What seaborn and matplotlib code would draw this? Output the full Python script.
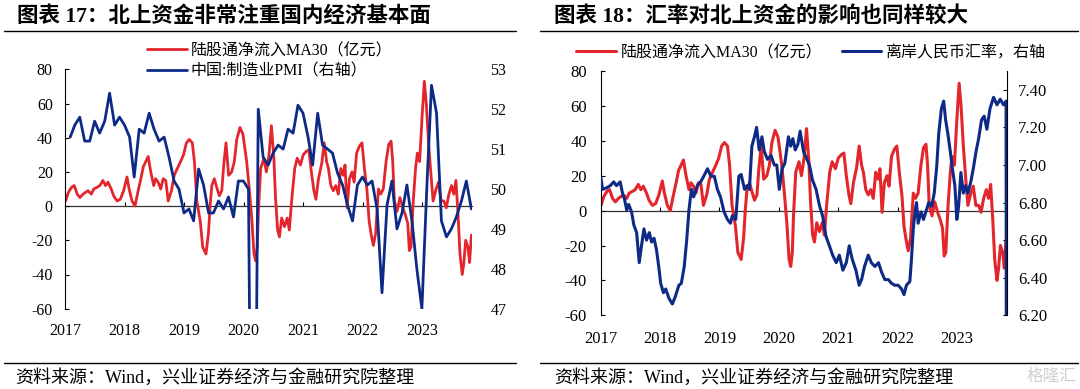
import pandas as pd
import matplotlib
matplotlib.use("Agg")
import matplotlib.pyplot as plt
import matplotlib.dates as mdates
from matplotlib.lines import Line2D
import seaborn as sns

# ---- data ----
# 陆股通净流入MA30（亿元）
flow_dates = [
    "2017-01-03", "2017-01-20", "2017-02-08", "2017-02-25", "2017-03-15", "2017-04-01", "2017-04-20",
    "2017-05-05", "2017-05-20", "2017-06-10", "2017-06-25", "2017-07-15", "2017-08-01", "2017-08-20",
    "2017-09-05", "2017-09-20", "2017-10-10", "2017-10-25", "2017-11-15", "2017-12-05", "2017-12-25",
    "2018-01-15", "2018-01-28", "2018-02-15", "2018-03-05", "2018-03-20", "2018-04-10", "2018-04-25",
    "2018-05-10", "2018-05-25", "2018-06-10", "2018-06-28", "2018-07-10", "2018-07-25", "2018-08-10",
    "2018-08-25", "2018-09-10", "2018-09-25", "2018-10-15", "2018-11-01", "2018-11-20", "2018-12-10",
    "2018-12-28", "2019-01-15", "2019-02-01", "2019-02-20", "2019-03-05", "2019-03-20", "2019-04-10",
    "2019-04-25", "2019-05-15", "2019-05-30", "2019-06-10", "2019-06-20", "2019-07-05", "2019-07-20",
    "2019-08-05", "2019-08-20", "2019-09-01", "2019-09-15", "2019-10-01", "2019-10-20", "2019-11-05",
    "2019-11-20", "2019-12-10", "2019-12-28", "2020-01-20", "2020-02-05", "2020-02-20", "2020-03-05",
    "2020-03-15", "2020-03-25", "2020-04-01", "2020-04-15", "2020-05-05", "2020-05-20", "2020-06-05",
    "2020-06-20", "2020-07-05", "2020-07-15", "2020-07-28", "2020-08-08", "2020-08-22", "2020-09-08",
    "2020-09-25", "2020-10-08", "2020-10-22", "2020-11-10", "2020-11-25", "2020-12-15", "2021-01-01",
    "2021-01-20", "2021-02-05", "2021-02-20", "2021-03-08", "2021-03-20", "2021-04-05", "2021-04-25",
    "2021-05-10", "2021-05-25", "2021-06-05", "2021-06-20", "2021-07-05", "2021-07-20", "2021-08-05",
    "2021-08-20", "2021-09-05", "2021-09-15", "2021-09-28", "2021-10-12", "2021-10-28", "2021-11-10",
    "2021-11-25", "2021-12-12", "2021-12-28", "2022-01-12", "2022-01-28", "2022-02-10", "2022-02-25",
    "2022-03-08", "2022-03-22", "2022-04-08", "2022-04-22", "2022-05-08", "2022-05-25", "2022-06-10",
    "2022-06-25", "2022-07-05", "2022-07-15", "2022-08-01", "2022-08-18", "2022-09-05", "2022-09-20",
    "2022-10-05", "2022-10-15", "2022-10-25", "2022-11-08", "2022-11-22", "2022-12-03", "2022-12-17",
    "2023-01-01", "2023-01-15", "2023-01-27", "2023-02-10", "2023-02-25", "2023-03-10", "2023-03-28",
    "2023-04-12", "2023-04-28", "2023-05-15", "2023-05-30", "2023-06-15", "2023-07-01", "2023-07-15",
    "2023-07-28", "2023-08-10", "2023-08-22", "2023-09-05", "2023-09-15", "2023-09-26", "2023-10-10",
    "2023-10-20", "2023-10-31",
]
flow_vals = [
    3, 8, 11, 12, 7, 5, 7,
    8, 9, 7, 10, 11, 12, 15,
    12, 14, 10, 6, 3, 4, 9,
    17, 10, 3, 0, 7, 16, 23,
    26, 29, 20, 12, 16, 14, 10,
    16, 15, 3, 9, 18, 22, 26,
    30, 37, 39, 37, 26, 3, -9,
    -24, -28, -16, 1, 12, 16, 11,
    6, 9, 24, 37, 18, 20, 26,
    39, 46, 42, 26, 10, -7, -28,
    -32, -24, -3, 22, 28, 20, 30,
    47, 28, 5, -14, -18, -7, -12,
    -7, -14, 3, 22, 28, 24, 30,
    32, 33, 20, 9, 4, 16, 25,
    37, 26, 22, 12, 9, 12, 7,
    22, 18, 24, -1, 16, 20, 14,
    31, 35, 37, 22, 9, -9, -18,
    -23, -16, 10, 7, 10, 26, 36,
    38, 26, 3, -3, 5, -1, -5,
    -10, -26, -24, 3, 22, 31, 26,
    52, 73, 60, 37, 18, 3, 10,
    14, 3, 3, -1, 7, 12, 7,
    15, -5, -28, -40, -33, -20, -24,
    -33, -17,
]

# 中国:制造业PMI（月度，2017-01 至 2023-10）
pmi_vals = [
    51.3, 51.6, 51.8, 51.2, 51.2, 51.7, 51.4, 51.7, 52.4, 51.6, 51.8, 51.6,
    51.3, 50.3, 51.5, 51.4, 51.9, 51.5, 51.2, 51.3, 50.8, 50.2, 50.0, 49.4,
    49.5, 49.2, 50.5, 50.1, 49.4, 49.4, 49.7, 49.5, 49.8, 49.3, 50.2, 50.2,
    50.0, 35.7, 52.0, 50.8, 50.6, 50.9, 51.1, 51.0, 51.5, 51.4, 52.1, 51.9,
    51.3, 50.6, 51.9, 51.1, 51.0, 50.9, 50.4, 50.1, 49.6, 49.2, 50.1, 50.3,
    50.1, 50.2, 49.5, 47.4, 49.6, 50.2, 49.0, 49.4, 50.1, 49.2, 48.0, 47.0,
    50.1, 52.6, 51.9, 49.2, 48.8, 49.0, 49.3, 49.7, 50.2, 49.5,
]
pmi_dates = pd.date_range("2017-01-31", periods=len(pmi_vals), freq="ME")

# 离岸人民币汇率
cnh_dates = [
    "2017-01-03", "2017-01-12", "2017-02-10", "2017-03-01", "2017-03-22", "2017-04-08", "2017-05-01",
    "2017-05-15", "2017-05-27", "2017-06-10", "2017-06-22", "2017-07-10", "2017-07-24", "2017-08-10",
    "2017-08-26", "2017-09-09", "2017-09-24", "2017-10-10", "2017-10-27", "2017-11-10", "2017-11-25",
    "2017-12-10", "2017-12-24", "2018-01-05", "2018-01-22", "2018-02-05", "2018-02-25", "2018-03-18",
    "2018-04-05", "2018-04-27", "2018-05-12", "2018-05-30", "2018-06-14", "2018-06-28", "2018-07-13",
    "2018-07-27", "2018-08-18", "2018-09-08", "2018-09-27", "2018-10-20", "2018-11-10", "2018-12-01",
    "2018-12-20", "2019-01-08", "2019-01-30", "2019-02-20", "2019-03-10", "2019-03-22", "2019-04-12",
    "2019-05-01", "2019-05-15", "2019-06-05", "2019-06-20", "2019-07-05", "2019-07-20", "2019-08-05",
    "2019-08-18", "2019-09-03", "2019-09-20", "2019-10-05", "2019-10-24", "2019-11-15", "2019-12-05",
    "2019-12-20", "2020-01-05", "2020-01-22", "2020-02-08", "2020-03-01", "2020-03-15", "2020-03-28",
    "2020-04-12", "2020-04-28", "2020-05-12", "2020-06-02", "2020-06-18", "2020-07-08", "2020-07-27",
    "2020-08-18", "2020-09-09", "2020-09-27", "2020-10-18", "2020-11-08", "2020-11-28", "2020-12-20",
    "2021-01-08", "2021-01-30", "2021-02-20", "2021-03-10", "2021-03-28", "2021-04-20", "2021-05-10",
    "2021-05-25", "2021-06-12", "2021-07-05", "2021-07-24", "2021-08-15", "2021-09-06", "2021-09-25",
    "2021-10-15", "2021-11-06", "2021-11-25", "2021-12-15", "2022-01-05", "2022-01-26", "2022-02-10",
    "2022-02-25", "2022-03-18", "2022-03-28", "2022-04-08", "2022-04-20", "2022-04-28", "2022-05-08",
    "2022-05-26", "2022-06-10", "2022-06-28", "2022-07-12", "2022-07-30", "2022-08-15", "2022-08-30",
    "2022-09-12", "2022-09-28", "2022-10-12", "2022-10-24", "2022-11-06", "2022-11-22", "2022-12-03",
    "2022-12-20", "2023-01-01", "2023-01-12", "2023-01-26", "2023-02-10", "2023-02-24", "2023-03-10",
    "2023-03-28", "2023-04-12", "2023-05-01", "2023-05-15", "2023-06-02", "2023-06-18", "2023-07-05",
    "2023-07-24", "2023-08-15", "2023-09-05", "2023-09-25", "2023-10-15", "2023-10-31", "2023-11-01",
]
cnh_vals = [
    6.93, 6.87, 6.88, 6.89, 6.91, 6.89, 6.91,
    6.85, 6.82, 6.76, 6.79, 6.75, 6.68, 6.64,
    6.48, 6.57, 6.66, 6.60, 6.64, 6.59, 6.61,
    6.55, 6.46, 6.37, 6.32, 6.34, 6.29, 6.26,
    6.30, 6.36, 6.37, 6.46, 6.60, 6.76, 6.87,
    6.83, 6.89, 6.91, 6.94, 6.98, 6.94, 6.94,
    6.87, 6.83, 6.75, 6.71, 6.69, 6.73, 6.71,
    6.94, 6.95, 6.87, 6.89, 6.87, 7.10, 7.15,
    7.20, 7.08, 7.15, 7.07, 7.03, 7.05, 7.00,
    7.00, 6.87, 6.98, 7.01, 7.15, 7.10, 7.14,
    7.08, 7.11, 7.18, 7.07, 7.04, 7.00, 6.92,
    6.87, 6.78, 6.73, 6.62, 6.57, 6.52, 6.48,
    6.52, 6.44, 6.48, 6.57, 6.50, 6.44, 6.36,
    6.39, 6.46, 6.52, 6.48, 6.46, 6.48, 6.43,
    6.39, 6.39, 6.37, 6.36, 6.36, 6.34, 6.31,
    6.36, 6.38, 6.50, 6.66, 6.76, 6.80, 6.69,
    6.75, 6.71, 6.76, 6.80, 6.78, 6.85, 6.99,
    7.17, 7.30, 7.34, 7.24, 7.17, 7.07, 6.99,
    6.89, 6.71, 6.78, 6.96, 6.85, 6.89, 6.85,
    6.91, 6.98, 7.08, 7.14, 7.24, 7.26, 7.19,
    7.30, 7.36, 7.32, 7.35, 7.32, 7.34, 6.20,
]

flow = pd.DataFrame({"date": pd.to_datetime(flow_dates), "value": flow_vals})
pmi = pd.DataFrame({"date": pmi_dates, "value": pmi_vals})
cnh = pd.DataFrame({"date": pd.to_datetime(cnh_dates), "value": cnh_vals})

RED = "#E3262B"
BLUE = "#0E2A87"
W, H = 1080, 389

sns.set_theme(style="white")
plt.rcParams["font.family"] = ["Liberation Serif", "Noto Sans CJK SC"]
plt.rcParams["axes.unicode_minus"] = False
plt.rcParams["text.color"] = "black"
plt.rcParams["xtick.color"] = "black"
plt.rcParams["ytick.color"] = "black"

fig = plt.figure(figsize=(W / 100, H / 100), dpi=100)


def box(x0, y0, x1, y1):
    # pixel box (top-left origin) -> figure fraction rect
    return [x0 / W, 1 - y1 / H, (x1 - x0) / W, (y1 - y0) / H]


def style_x(ax, fs, pad):
    ax.set_xlim(pd.Timestamp("2017-01-01"), pd.Timestamp("2023-11-05"))
    ax.xaxis.set_major_locator(mdates.YearLocator())
    ax.xaxis.set_major_formatter(mdates.DateFormatter("%Y"))
    ax.tick_params(axis="x", bottom=True, length=0, pad=pad, labelsize=fs)
    ax.set_xlabel("")
    for s in ["bottom", "top", "right"]:
        ax.spines[s].set_visible(False)
    ax.spines["left"].set_color("black")
    ax.spines["left"].set_linewidth(0.8)
    # zero line carrying the year ticks
    zero = ax.secondary_xaxis(0, transform=ax.transData)
    yrs = [mdates.date2num(pd.Timestamp(f"{y}-01-01")) for y in range(2018, 2024)]
    zero.set_xticks(yrs)
    zero.tick_params(axis="x", direction="in", length=3, width=0.8, color="black",
                     labelbottom=False)
    zero.spines["bottom"].set_color("#333333")
    zero.spines["bottom"].set_linewidth(0.9)


def style_left_y(ax, fs, pad):
    ax.set_ylim(-60, 80)
    ax.set_yticks(range(-60, 81, 20))
    ax.set_ylabel("")
    ax.tick_params(axis="y", left=True, direction="in", length=3, width=0.8,
                   color="black", pad=pad, labelsize=fs)


# ---------------- left chart ----------------
ax1 = fig.add_axes(box(65.3, 69.3, 472.2, 308.7))
sns.lineplot(data=flow, x="date", y="value", ax=ax1, color=RED, lw=2.0)
ax1b = ax1.twinx()
sns.lineplot(data=pmi, x="date", y="value", ax=ax1b, color=BLUE, lw=2.0)
style_x(ax1, 11.5, 10)
style_left_y(ax1, 11.5, 9)
ax1b.set_ylim(47, 53)
ax1b.set_yticks(range(47, 54))
ax1b.set_ylabel("")
ax1b.tick_params(axis="y", right=True, length=0, pad=13, labelsize=11.5)
for s in ax1b.spines.values():
    s.set_visible(False)

fig.legend(handles=[ax1.get_lines()[0], ax1b.get_lines()[0]],
           labels=["陆股通净流入MA30（亿元）", "中国:制造业PMI（右轴）"],
           loc="upper left", bbox_to_anchor=(147 / W, 1 - 43 / H), frameon=False,
           fontsize=11.5, handlelength=2.5, handletextpad=0.25, borderpad=0,
           borderaxespad=0, labelspacing=0.3)

# ---------------- right chart ----------------
ax2 = fig.add_axes(box(600.7, 71, 1006.9, 315.3))
sns.lineplot(data=flow, x="date", y="value", ax=ax2, color=RED, lw=2.2)
ax2b = ax2.twinx()
sns.lineplot(data=cnh, x="date", y="value", ax=ax2b, color=BLUE, lw=2.2)
style_x(ax2, 12, 11)
style_left_y(ax2, 12, 10)
ax2b.set_ylim(6.2, 7.5)
ax2b.set_yticks([6.2, 6.4, 6.6, 6.8, 7.0, 7.2, 7.4])
ax2b.set_yticklabels([f"{v:.2f}" for v in [6.2, 6.4, 6.6, 6.8, 7.0, 7.2, 7.4]])
ax2b.set_ylabel("")
ax2b.tick_params(axis="y", right=True, direction="in", length=3, width=0.8,
                 color="black", pad=8, labelsize=12)
for s in ["top", "left", "bottom"]:
    ax2b.spines[s].set_visible(False)
ax2b.spines["right"].set_color("black")
ax2b.spines["right"].set_linewidth(0.8)

fig.legend(handles=[ax2.get_lines()[0], ax2b.get_lines()[0]],
           labels=["陆股通净流入MA30（亿元）", "离岸人民币汇率，右轴"],
           loc="upper left", bbox_to_anchor=(576 / W, 1 - 45 / H), frameon=False,
           fontsize=11.5, ncol=2, handlelength=2.5, handletextpad=0.3, borderpad=0,
           borderaxespad=0, columnspacing=1.2)

# ---------------- titles, rules, sources ----------------
fig.text(17 / W, 1 - 16.5 / H, "图表 17：北上资金非常注重国内经济基本面",
         fontsize=15.5, fontweight="bold", va="center", ha="left")
fig.text(554 / W, 1 - 16.5 / H, "图表 18：汇率对北上资金的影响也同样较大",
         fontsize=15.5, fontweight="bold", va="center", ha="left")
for x0, x1 in [(3.5, 516), (540, 1078)]:
    fig.add_artist(Line2D([x0 / W, x1 / W], [1 - 30.5 / H] * 2, color="black", lw=1.0))
    fig.add_artist(Line2D([x0 / W, x1 / W], [1 - 363 / H] * 2, color="black", lw=1.0))
fig.text(15.6 / W, 1 - 378 / H, "资料来源：Wind，兴业证券经济与金融研究院整理",
         fontsize=13, va="center", ha="left")
fig.text(554 / W, 1 - 378 / H, "资料来源：Wind，兴业证券经济与金融研究院整理",
         fontsize=13, va="center", ha="left")
fig.text(1076 / W, 1 - 377 / H, "格隆汇", fontsize=12, color="#d0d0d0",
         va="center", ha="right")

fig.savefig("out.png", dpi=100)
